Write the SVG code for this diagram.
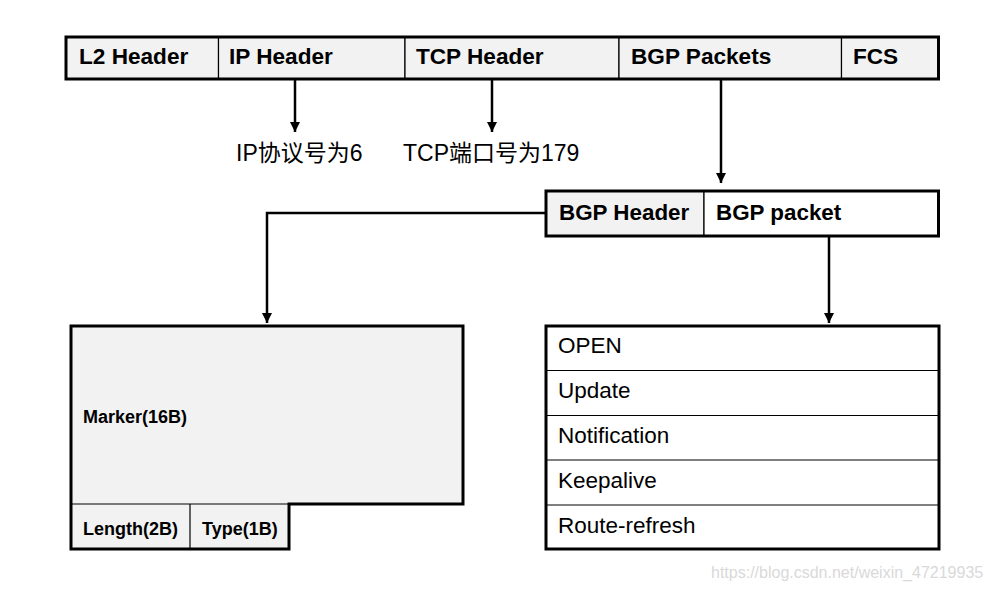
<svg xmlns="http://www.w3.org/2000/svg" width="992" height="589" viewBox="0 0 992 589">
<style>
.cell{fill:#f2f2f2;stroke:#000;stroke-width:1.2}
.wcell{fill:#fff;stroke:#000;stroke-width:1.2}
.frame{fill:none;stroke:#000;stroke-width:3}
.b{font-family:"Liberation Sans",Arial,sans-serif;font-weight:bold;fill:#000}
.r{font-family:"Liberation Sans",Arial,"Noto Sans CJK SC",sans-serif;fill:#000}
.conn{fill:none;stroke:#000;stroke-width:2.5}
</style>
<defs>
<marker id="ah" viewBox="0 0 10 10" refX="10" refY="5" markerWidth="4" markerHeight="4" markerUnits="strokeWidth" orient="auto">
<path d="M0,0 L10,5 L0,10 Z" fill="#000"/>
</marker>
</defs>
<rect width="992" height="589" fill="#fff"/>

<g id="frame-top">
<rect class="cell" x="66" y="37" width="152.5" height="42"/>
<rect class="cell" x="218.5" y="37" width="186.5" height="42"/>
<rect class="cell" x="405" y="37" width="214" height="42"/>
<rect class="cell" x="619" y="37" width="222.5" height="42"/>
<rect class="cell" x="841.5" y="37" width="97" height="42"/>
<rect class="frame" x="66" y="37" width="872.5" height="42"/>
<text class="b" x="79" y="64" font-size="22.6">L2 Header</text>
<text class="b" x="229" y="64" font-size="22.6">IP Header</text>
<text class="b" x="416" y="64" font-size="22.6">TCP Header</text>
<text class="b" x="631" y="64" font-size="22.6">BGP Packets</text>
<text class="b" x="853" y="64" font-size="22.6">FCS</text>
</g>

<g id="ip-note">
<text class="r" x="236" y="161" font-size="23">IP协议号为6</text>
</g>
<g id="tcp-note">
<text class="r" x="403" y="161" font-size="23">TCP端口号为179</text>
</g>

<g id="bgp-frame">
<rect class="cell" x="546" y="191" width="158" height="45"/>
<rect class="wcell" x="704" y="191" width="234.5" height="45"/>
<rect class="frame" x="546" y="191" width="392.5" height="45"/>
<text class="b" x="559" y="220" font-size="22.4">BGP Header</text>
<text class="b" x="716" y="220" font-size="22.4">BGP packet</text>
</g>

<g id="bgp-header">
<path d="M71,326 H463 V504 H289 V549 H71 Z" fill="#f2f2f2" stroke="none"/>
<line x1="71" y1="504" x2="289" y2="504" stroke="#000" stroke-width="1.2"/>
<line x1="190" y1="504" x2="190" y2="549" stroke="#000" stroke-width="1.2"/>
<path d="M71,326 H463 V504 H289 V549 H71 Z" class="frame"/>
<text class="b" x="83" y="423" font-size="18">Marker(16B)</text>
<text class="b" x="83" y="535" font-size="18">Length(2B)</text>
<text class="b" x="202" y="535" font-size="18">Type(1B)</text>
</g>

<g id="bgp-types">
<rect class="wcell" x="546" y="326" width="393" height="223"/>
<line x1="546" y1="370.5" x2="939" y2="370.5" stroke="#000" stroke-width="1.2"/>
<line x1="546" y1="415.5" x2="939" y2="415.5" stroke="#000" stroke-width="1.2"/>
<line x1="546" y1="460" x2="939" y2="460" stroke="#000" stroke-width="1.2"/>
<line x1="546" y1="505" x2="939" y2="505" stroke="#000" stroke-width="1.2"/>
<rect class="frame" x="546" y="326" width="393" height="223"/>
<text class="r" x="558" y="353" font-size="22.5">OPEN</text>
<text class="r" x="558" y="398" font-size="22.5">Update</text>
<text class="r" x="558" y="443" font-size="22.5">Notification</text>
<text class="r" x="558" y="488" font-size="22.5">Keepalive</text>
<text class="r" x="558" y="533" font-size="22.5">Route-refresh</text>
</g>

<g id="connectors">
<line class="conn" x1="295" y1="80" x2="295" y2="132" marker-end="url(#ah)"/>
<line class="conn" x1="492" y1="80" x2="492" y2="132" marker-end="url(#ah)"/>
<line class="conn" x1="721" y1="80" x2="721" y2="183" marker-end="url(#ah)"/>
<polyline class="conn" points="546,213 267,213 267,323" marker-end="url(#ah)" stroke-width="1.6"/>
<line class="conn" x1="829" y1="237" x2="829" y2="323" marker-end="url(#ah)"/>
</g>

<text x="711" y="578" font-family="'Liberation Sans',Arial,sans-serif" font-size="16" fill="#d9d9d9">https://blog.csdn.net/weixin_47219935</text>
</svg>
